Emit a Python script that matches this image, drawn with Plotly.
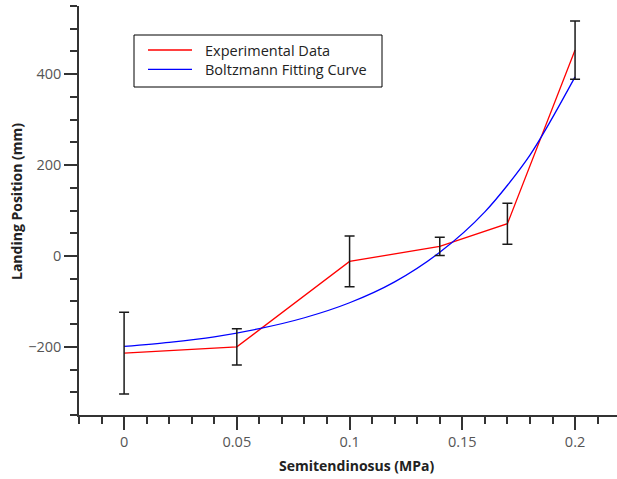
import plotly.graph_objects as go

# ---- data ----
exp_x = [0, 0.05, 0.1, 0.14, 0.17, 0.2]
exp_y = [-214, -200, -12, 21, 71, 453]
exp_err = [90, 40, 56, 20, 45, 64]

fit_x = [0, 0.02, 0.04, 0.06, 0.08, 0.1, 0.12, 0.14, 0.16, 0.18, 0.2]
fit_y = [-199, -190, -178, -160, -136, -103, -57, 8, 97, 222, 394]

x_ticks = [0, 0.05, 0.1, 0.15, 0.2]
x_ticklabels = ["0", "0.05", "0.1", "0.15", "0.2"]
y_ticks = [-200, 0, 200, 400]
y_ticklabels = ["\u2212200", "0", "200", "400"]

legend_names = ["Experimental Data", "Boltzmann Fitting Curve"]

# ---- layout geometry (pixels) ----
W, H = 617, 479
ML, MR, MT, MB = 79, 0, 6, 64
PW = W - ML - MR
PH = H - MT - MB


def px_x(px):
    return (px - ML) / PW


def px_y(py):
    return (H - MB - py) / PH


FONT = "Open Sans, Noto Sans, sans-serif"

fig = go.Figure()
fig.add_trace(go.Scatter(x=exp_x, y=exp_y, mode="lines", name=legend_names[0],
                         line=dict(color="#ff0000", width=1.3), showlegend=False))
fig.add_trace(go.Scatter(x=fit_x, y=fit_y, mode="lines", name=legend_names[1],
                         line=dict(color="#0000ff", width=1.3, shape="spline", smoothing=0.8),
                         showlegend=False))
fig.add_trace(go.Scatter(x=exp_x, y=exp_y, mode="markers", name="error",
                         marker=dict(size=2, opacity=0),
                         error_y=dict(type="data", array=exp_err, visible=True,
                                      color="#1a1a1a", thickness=1.5, width=5),
                         showlegend=False, hoverinfo="skip"))

# manual legend
lg_left, lg_top, lg_right, lg_bottom = 134, 35, 382, 87
shapes = [dict(type="rect", xref="paper", yref="paper",
               x0=px_x(lg_left), x1=px_x(lg_right), y0=px_y(lg_bottom), y1=px_y(lg_top),
               line=dict(color="#000000", width=1), fillcolor="rgba(0,0,0,0)")]
annotations = []
for i, (nm, col) in enumerate(zip(legend_names, ["#ff0000", "#0000ff"])):
    yy = 50 + i * 19.3
    shapes.append(dict(type="line", xref="paper", yref="paper",
                       x0=px_x(148), x1=px_x(192), y0=px_y(yy), y1=px_y(yy),
                       line=dict(color=col, width=1.3)))
    annotations.append(dict(text=nm, xref="paper", yref="paper", x=px_x(203), y=px_y(yy),
                            xanchor="left", yanchor="middle", showarrow=False,
                            font=dict(family=FONT, size=14.5, color="#222222")))

# axis titles
annotations.append(dict(text="<b>Semitendinosus (MPa)</b>", xref="paper", yref="paper",
                        x=px_x(357), y=px_y(465), xanchor="center", yanchor="middle",
                        showarrow=False, font=dict(family=FONT, size=14, color="#222222")))
annotations.append(dict(text="<b>Landing Position (mm)</b>", xref="paper", yref="paper",
                        x=px_x(16), y=px_y(202), xanchor="center", yanchor="middle",
                        textangle=-90, showarrow=False,
                        font=dict(family=FONT, size=14, color="#222222")))

axis_common = dict(showgrid=False, zeroline=False, showline=True, linecolor="#333333",
                   linewidth=1.5, ticks="outside", ticklen=13, tickwidth=1.5,
                   tickcolor="#333333",
                   tickfont=dict(family=FONT, size=14.5, color="#555555"))

fig.update_layout(
    width=W, height=H,
    margin=dict(l=ML, r=MR, t=MT, b=MB, pad=0),
    paper_bgcolor="white", plot_bgcolor="white",
    showlegend=False,
    shapes=shapes, annotations=annotations,
    xaxis=dict(range=[-0.02, -0.02 + PW / 2254.8], tickvals=x_ticks, ticktext=x_ticklabels,
               minor=dict(dtick=0.01, tick0=0, ticks="outside", ticklen=7,
                          tickwidth=1.5, tickcolor="#333333"),
               **axis_common),
    yaxis=dict(range=[-350, 550], tickvals=y_ticks, ticktext=y_ticklabels,
               minor=dict(dtick=50, tick0=0, ticks="outside", ticklen=7,
                          tickwidth=1.5, tickcolor="#333333"),
               **axis_common),
)

fig.write_html("out.html", config={"displayModeBar": False},
               post_script="document.body.style.margin='0';document.body.style.overflow='hidden';")
